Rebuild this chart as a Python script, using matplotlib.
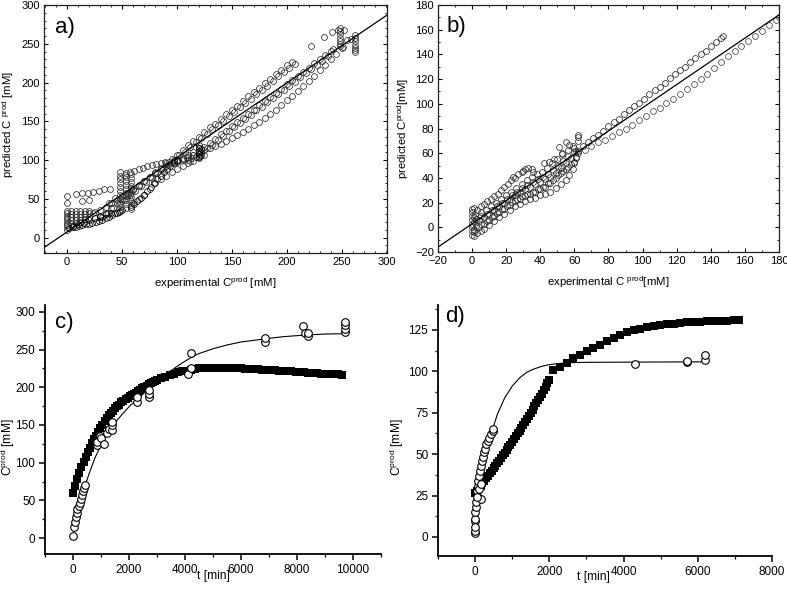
# -*- coding: utf-8 -*-
import matplotlib
matplotlib.use("Agg")
import matplotlib.pyplot as plt
from matplotlib.ticker import MultipleLocator, FixedLocator

plt.rcParams['font.family'] = ['Liberation Sans', 'DejaVu Sans']
plt.rcParams['mathtext.default'] = 'regular'

# ---------------- panel a) predicted vs experimental ----------------
a_line_x = [-21, 291]
a_line_y = [-13, 287]

a_band1_x = [30, 35, 40, 45, 50, 55, 60, 65, 70, 75, 80, 85, 90, 95, 100, 105, 110, 115, 120, 125,
             130, 135, 140, 145, 150, 155, 160, 165, 170, 175, 180, 185, 190, 195, 200, 205]
a_band1_y = [27, 32, 38, 44, 50, 55, 61, 67, 73, 78, 84, 90, 96, 101, 107, 113, 119, 124, 130, 136,
             142, 147, 153, 159, 165, 170, 176, 182, 188, 193, 199, 205, 211, 216, 222, 226]
a_band2_x = [32, 37, 42, 47, 52, 57, 62, 67, 72, 77, 82, 87, 92, 97, 102, 107, 112, 117, 122, 127,
             132, 137, 142, 147, 152, 157, 162, 167, 172, 177, 182, 187, 192, 197, 202, 207]
a_band2_y = [27, 32, 38, 43, 49, 55, 60, 66, 72, 77, 83, 89, 94, 100, 106, 111, 117, 123, 128, 134,
             140, 145, 151, 157, 162, 168, 174, 179, 185, 191, 196, 202, 208, 213, 219, 224]

a_mid_x = [110, 115, 120, 125, 130, 135, 140, 145, 150, 155, 160, 165, 170, 175, 180, 185, 190,
           195, 200, 205, 210, 215, 220, 225, 230, 235, 240, 242]
a_mid_y = [100, 106, 111, 117, 122, 127, 133, 138, 144, 149, 154, 160, 165, 171, 176, 181, 187,
           192, 198, 203, 208, 214, 219, 225, 230, 235, 241, 243]
a_mid2_x = [112, 117, 122, 127, 132, 137, 142, 147, 152, 157, 162, 167, 172, 177, 182, 187, 192,
            197, 202, 207, 212, 217, 222, 227, 232, 237]
a_mid2_y = [99, 104, 110, 115, 120, 126, 131, 137, 142, 148, 153, 158, 164, 169, 175, 180, 185,
            191, 196, 201, 207, 212, 218, 223, 228, 234]

a_low_x = [100, 105, 110, 115, 120, 125, 130, 135, 140, 145, 150, 155, 160, 165, 170, 175, 180,
           185, 190, 195, 200, 205, 210, 215, 220, 225, 230, 235, 240, 245, 250]
a_low_y = [97, 100, 104, 107, 110, 113, 115, 118, 121, 124, 128, 132, 136, 140, 145, 149, 154,
           159, 165, 171, 177, 183, 189, 195, 202, 209, 216, 223, 230, 237, 244]

a_tr_x = [222, 234, 241, 246, 251, 255, 248, 248, 248, 248, 248, 248, 248,
          262, 262, 262, 262, 262, 262, 262, 252, 258]
a_tr_y = [247, 259, 265, 268, 246, 255, 270, 266, 262, 258, 254, 250, 247,
          261, 257, 253, 249, 245, 242, 240, 268, 256]

a_left_x = [0, 0, 0, 0, 0, 0, 0, 0, 0, 0, 0,
            4, 8, 12, 16, 20, 4, 8, 12, 16, 20, 24, 4, 8, 12, 16, 20, 4, 8, 12, 16, 4, 8, 12,
            8, 14, 19, 24, 29, 34, 39, 14, 20, 38, 44]
a_left_y = [10, 13, 16, 19, 22, 25, 28, 31, 34, 45, 53,
            34, 34, 34, 34, 34, 30, 30, 30, 30, 31, 32, 26, 26, 26, 26, 27, 22, 22, 23, 24, 18, 19, 20,
            56, 57, 58, 59, 60, 62, 63, 47, 48, 44, 51]

a_dark_x = [2, 5, 8, 11, 14, 17, 20, 23, 26, 29, 32, 35, 38, 41, 44, 47, 50,
            5, 10, 15, 20, 25, 30, 35, 40, 45, 48,
            58, 61, 64, 67, 70, 73, 76, 79, 82, 85, 88, 91, 94, 97, 100,
            120, 120, 120, 120, 120, 122, 122]
a_dark_y = [12, 13, 14, 15, 16, 17, 18, 19, 20, 21, 23, 25, 27, 29, 31, 33, 36,
            15, 17, 19, 22, 25, 28, 30, 31, 32, 34,
            40, 43, 47, 51, 55, 60, 65, 70, 75, 80, 84, 88, 92, 96, 99,
            104, 108, 112, 116, 120, 106, 114]

a_vert_x = [48, 48, 48, 48, 48, 48, 48, 48, 48, 48,
            54, 54, 54, 54, 54, 54, 54, 54, 54, 54,
            58, 58, 58, 58, 58, 58, 58, 58, 58, 58]
a_vert_y = [40, 45, 50, 55, 60, 65, 70, 75, 80, 85,
            38, 43, 48, 53, 58, 63, 68, 73, 78, 83,
            37, 42, 47, 52, 57, 62, 67, 72, 77, 82]

a_s_x = [53, 57, 61, 65, 69, 73, 77, 81, 85, 89, 93, 97, 101, 105, 109, 113, 117, 121,
         25, 30, 35, 40, 45, 50, 55, 60, 65, 70, 75, 80, 85, 90, 95, 100, 105, 110, 115, 120,
         60, 65, 70, 75, 80, 85, 90, 95, 100, 105, 110, 115, 120, 125]
a_s_y = [81, 84, 86, 88, 90, 92, 94, 95, 96, 97, 98, 99, 100, 101, 102, 103, 104, 105,
         33, 36, 40, 44, 48, 53, 58, 63, 68, 73, 78, 83, 88, 92, 96, 100, 103, 107, 111, 115,
         45, 50, 55, 62, 70, 76, 80, 84, 88, 92, 96, 99, 103, 107]

# ---------------- panel b) predicted vs experimental ----------------
b_line_x = [-20, 180]
b_line_y = [-16, 172]

b_up_x = [62, 65, 68, 71, 74, 77, 80, 83, 86, 89, 92, 95, 98, 101, 104, 107, 110, 113, 116, 119,
          122, 125, 128, 131, 134, 137, 140, 143, 146, 147]
b_up_y = [62, 66, 69, 72, 75, 78, 82, 85, 88, 92, 95, 98, 101, 104, 108, 111, 114, 117, 121, 124,
          127, 130, 134, 137, 140, 143, 147, 150, 153, 155]

b_low_x = [66, 70, 74, 78, 82, 86, 90, 94, 98, 102, 106, 110, 114, 118, 122, 126, 130, 134, 138,
           142, 146, 150, 154, 158, 162, 166, 170, 174, 178, 180]
b_low_y = [63, 66, 69, 71, 74, 77, 80, 83, 87, 90, 94, 97, 101, 104, 108, 112, 116, 120, 124,
           129, 134, 139, 143, 147, 151, 155, 159, 164, 168, 170]

b_c1_x = [1, 3, 5, 7, 9, 11, 13, 15, 17, 19, 21, 23, 25, 27, 29, 31, 33, 35]
b_c1_y = [16, 14, 17, 19, 21, 23, 25, 27, 30, 33, 35, 38, 40, 43, 45, 47, 48, 47]
b_c2_x = [2, 5, 8, 11, 14, 17, 20, 23, 26, 29, 32, 35, 38, 41, 44, 47, 50, 53, 56, 59, 62]
b_c2_y = [10, 12, 14, 17, 20, 23, 26, 29, 32, 35, 38, 41, 43, 45, 48, 52, 55, 59, 63, 66, 70]
b_c3_x = [1, 4, 7, 10, 13, 16, 19, 22, 25, 28, 31, 34, 37, 40, 43, 46, 49, 52, 55, 58, 61]
b_c3_y = [4, 6, 8, 11, 14, 17, 20, 23, 26, 29, 31, 33, 35, 37, 39, 41, 44, 48, 52, 56, 62]
b_c4_x = [1, 4, 7, 10, 13, 16, 19, 22, 25, 28, 31, 34, 37, 40, 43, 46, 49, 52, 55, 58, 61]
b_c4_y = [-2, 0, 3, 6, 9, 12, 15, 18, 21, 23, 25, 27, 29, 31, 33, 36, 40, 44, 47, 51, 57]
b_c5_x = [1, 3, 5, 7, 10, 13, 16, 19, 22, 25, 28, 31, 34, 37, 40, 43, 46, 49, 52, 55, 57, 59,
          60, 61, 62]
b_c5_y = [-7, -5, -3, -1, 2, 5, 8, 11, 14, 17, 19, 21, 23, 24, 26, 27, 29, 32, 35, 38, 42, 47,
          52, 56, 60]
b_c6_x = [0, 0, 0, 0, 0, 0, 0, 0, 1, 1, 51, 55, 57, 62, 62, 60, 45, 42, 48, 53, 36, 30, 24]
b_c6_y = [-6, -3, 0, 3, 6, 9, 12, 15, -4, 8, 65, 69, 67, 75, 73, 64, 53, 52, 55, 60, 45, 46, 41]
b_c7_x = [2.5, 5.5, 8.5, 11.5, 14.5, 17.5, 20.5, 23.5, 26.5, 29.5, 32.5, 35.5, 38.5, 41.5, 44.5,
          47.5, 50.5, 53.5, 56.5, 59.5]
b_c7_y = [7, 9, 11, 14, 17, 20, 23, 26, 29, 32, 34.5, 37, 39, 41, 43.5, 46.5, 49.5, 53.5, 57.5, 61]
b_c8_x = [2.5, 5.5, 8.5, 11.5, 14.5, 17.5, 20.5, 23.5, 26.5, 29.5, 32.5, 35.5, 38.5, 41.5, 44.5,
          47.5, 50.5, 53.5, 56.5, 59.5]
b_c8_y = [1, 3, 5.5, 8.5, 11.5, 14.5, 17.5, 20.5, 23, 25, 27, 29, 31, 33, 35.5, 38.5, 42, 45.5,
          49, 53]

# ---------------- panel c) time course ----------------
c_sq_x = [0, 75, 150, 225, 300, 375, 450, 525, 600, 675, 750, 825, 900, 975, 1050, 1125,
          1200, 1275, 1350, 1425, 1500, 1575, 1650, 1725, 1800, 1875, 1950, 2025, 2100,
          2175, 2250, 2325, 2400, 2475, 2550, 2625, 2700, 2775, 2850, 2925, 3000,
          3150, 3300, 3450, 3600, 3750, 3900, 4050, 4200,
          4350, 4500, 4650, 4800, 4950, 5100, 5250, 5400, 5550, 5700, 5850, 6000, 6150, 6300,
          6450, 6600, 6750, 6900, 7050, 7200, 7350, 7500, 7650, 7800, 7950, 8100, 8250, 8400,
          8550, 8700, 8850, 9000, 9150, 9300, 9450, 9600]
c_sq_y = [60, 69, 78, 86, 94, 101, 108, 114, 120, 126, 131, 136, 141, 146, 150, 155,
          159, 163, 166, 169, 172, 175, 177, 180, 182, 184, 186, 188, 190,
          191.5, 193, 195, 197, 198.5, 200, 202, 204, 205.5, 207, 208, 209,
          212, 214, 216, 218, 220, 221, 222, 223,
          224, 225, 225.5, 226, 226, 226, 226, 226, 226, 225.5, 225, 225, 224.5, 224.5,
          224, 224, 223.5, 223, 223, 222.5, 222, 222, 221.5, 221, 220.5, 220, 220, 219.5,
          219, 218.5, 218, 218, 217.5, 217, 217, 216.5]

c_exp_x = [0, 20, 60, 100, 130, 160, 200, 240, 280, 320, 360, 400, 430,
           850, 860, 980, 1000, 1100, 1200, 1300, 1380, 1390, 1390,
           2290, 2290, 2730, 2730, 2730, 4090, 4230, 4230,
           6846, 6846, 8226, 8300, 8390, 8390, 9720, 9720, 9720, 9720]
c_exp_y = [3, 15, 22, 28, 33, 38, 42, 47, 52, 57, 62, 67, 70,
           124, 128, 136, 133, 125, 140, 145, 143, 150, 154,
           181, 187, 187, 191, 197, 218, 225, 246,
           260, 265, 281, 272, 268, 272, 273, 277, 282, 287]

c_fit_x = [0, 100, 200, 300, 432, 600, 791, 1000, 1151, 1400, 1571, 1800, 2050, 2350, 2650,
           3000, 3250, 3500, 3849, 4200, 4449, 5000, 5500, 6000, 6846, 7500, 8226, 9000, 9700]
c_fit_y = [14, 28, 41, 53, 70, 88, 107, 123, 134, 148, 156, 166, 176, 186, 196,
           207, 215, 222, 231, 239, 244, 251, 256, 260, 264, 267, 269, 270.5, 271]

# ---------------- panel d) time course ----------------
d_sq_x = [0, 50, 100, 150, 200, 250, 300, 350, 400, 450, 500, 550, 600, 650, 700, 750, 800,
          850, 900, 950, 1000, 1050, 1100, 1150, 1200, 1250, 1300, 1350, 1400, 1450, 1500,
          1550, 1600, 1650, 1700, 1750, 1800, 1850, 1900, 1950, 2000,
          2110, 2290, 2470, 2650, 2830, 3010, 3190, 3370, 3550, 3730, 3910, 4090, 4270, 4450,
          4630, 4810, 4990, 5170, 5350, 5530, 5710, 5890, 6070, 6250, 6430, 6610, 6790, 6970,
          7100]
d_sq_y = [26.5, 27.9, 29.4, 30.9, 32.4, 33.9, 35.4, 36.9, 38.4, 39.9, 41.4, 42.9, 44.4, 46, 47.6,
          49.2, 50.8, 52.4, 54, 55.7, 57.4, 59.1, 60.8, 62.5, 64.2, 66, 67.8, 69.6, 71.4, 73.2,
          75, 76.9, 78.8, 80.7, 82.6, 84.5, 86.5, 88.5, 90.5, 92.7, 95,
          100.8, 102.5, 105, 107.8, 110, 112, 114, 116, 118, 120, 122, 123.5, 124.8, 125.8,
          126.6, 127.3, 127.9, 128.4, 128.8, 129.2, 129.5, 129.8, 130, 130.2, 130.4, 130.5,
          130.6, 130.7, 130.8]

d_exp_x = [0, 0, 0, 0, 5, 10, 15, 25, 40, 55, 70, 90, 110, 130, 155, 180, 205, 235, 265, 300,
           340, 380, 420, 470, 480, 170, 60, 100, 150,
           4300, 5720, 5720, 6200, 6200]
d_exp_y = [2.5, 3.5, 9.5, 11, 6, 15, 18, 21, 25, 28, 31, 34, 37, 40, 43, 46, 48, 51, 53, 56,
           58, 60, 62, 64, 65, 23, 24, 29, 32,
           104.5, 105.5, 106, 107, 110]

d_fit_x = [0, 100, 200, 300, 400, 500, 600, 700, 800, 1000, 1200, 1400, 1600, 1800, 2000,
           2300, 2600, 3000, 4000, 5000, 6200]
d_fit_y = [26, 35, 44, 52, 60, 67, 74, 79, 84, 91, 96, 99.5, 101.5, 103, 104,
           104.8, 105.2, 105.4, 105.5, 105.6, 105.7]


def circles(ax, xs, ys, color='#2a2a2a', ms=4.2):
    ax.plot(xs, ys, 'o', ms=ms, mfc='none', mec=color, mew=0.55)


def style_box(ax, fs=8):
    for sp in ax.spines.values():
        sp.set_linewidth(0.9)
        sp.set_color('#222222')
    ax.tick_params(which='both', direction='in', top=True, right=True, labelsize=fs, pad=3)
    ax.tick_params(which='major', length=3, width=0.8)
    ax.tick_params(which='minor', length=1.5, width=0.6)


def style_open(ax, fs=8.5):
    ax.spines['top'].set_visible(False)
    ax.spines['right'].set_visible(False)
    ax.spines['left'].set_linewidth(1.3)
    ax.spines['bottom'].set_linewidth(1.3)
    ax.tick_params(which='both', direction='out', labelsize=fs)
    ax.tick_params(which='major', length=4, width=1.1, pad=3)
    ax.tick_params(which='minor', length=2.5, width=0.9)


def main():
    fig = plt.figure(figsize=(7.87, 5.92), dpi=100)

    # a)
    ax = fig.add_axes([0.0559, 0.5726, 0.4358, 0.4189])
    circles(ax, a_band1_x, a_band1_y)
    circles(ax, a_band2_x, a_band2_y)
    circles(ax, a_mid_x, a_mid_y)
    circles(ax, a_mid2_x, a_mid2_y)
    circles(ax, a_low_x, a_low_y)
    circles(ax, a_tr_x, a_tr_y)
    circles(ax, a_left_x, a_left_y)
    circles(ax, a_vert_x, a_vert_y)
    circles(ax, a_s_x, a_s_y)
    circles(ax, a_dark_x, a_dark_y, color='black')
    ax.plot(a_line_x, a_line_y, '-', color='black', lw=0.9)
    ax.set_xlim(-21, 291)
    ax.set_ylim(-20, 300)
    ax.xaxis.set_major_locator(FixedLocator([0, 50, 100, 150, 200, 250, 291]))
    ax.set_xticklabels(['0', '50', '100', '150', '200', '250', '300'])
    ax.yaxis.set_major_locator(MultipleLocator(50))
    ax.xaxis.set_minor_locator(MultipleLocator(10))
    ax.yaxis.set_minor_locator(MultipleLocator(10))
    style_box(ax)
    ax.set_xlabel('experimental C$^{prod}$ [mM]', fontsize=8.2)
    ax.set_ylabel('predicted C $^{prod}$ [mM]', fontsize=8.2)
    ax.xaxis.set_label_coords(0.5, -0.089)
    ax.yaxis.set_label_coords(-0.081, 0.52)
    ax.text(0.032, 0.909, 'a)', transform=ax.transAxes, fontsize=16, va='center', ha='left')

    # b)
    ax = fig.add_axes([0.5565, 0.5743, 0.4333, 0.4172])
    circles(ax, b_up_x, b_up_y)
    circles(ax, b_low_x, b_low_y, color='#444444')
    circles(ax, b_c1_x, b_c1_y)
    circles(ax, b_c2_x, b_c2_y)
    circles(ax, b_c3_x, b_c3_y)
    circles(ax, b_c4_x, b_c4_y)
    circles(ax, b_c5_x, b_c5_y)
    circles(ax, b_c6_x, b_c6_y)
    circles(ax, b_c7_x, b_c7_y)
    circles(ax, b_c8_x, b_c8_y)
    ax.plot(b_line_x, b_line_y, '-', color='black', lw=0.9)
    ax.set_xlim(-20, 180)
    ax.set_ylim(-20, 180)
    ax.xaxis.set_major_locator(MultipleLocator(20))
    ax.yaxis.set_major_locator(MultipleLocator(20))
    ax.xaxis.set_minor_locator(MultipleLocator(10))
    ax.yaxis.set_minor_locator(MultipleLocator(10))
    style_box(ax)
    ax.set_xlabel('experimental C $^{prod}$[mM]', fontsize=8.2)
    ax.set_ylabel('predicted C$^{prod}$[mM]', fontsize=8.2)
    ax.xaxis.set_label_coords(0.5, -0.089)
    ax.yaxis.set_label_coords(-0.079, 0.5)
    ax.text(0.025, 0.915, 'b)', transform=ax.transAxes, fontsize=16, va='center', ha='left')

    # c)
    ax = fig.add_axes([0.0572, 0.0642, 0.4269, 0.4206])
    ax.plot(c_sq_x, c_sq_y, 's', ms=5.5, color='black', mew=0)
    ax.plot(c_fit_x, c_fit_y, '-', color='black', lw=0.8)
    ax.plot(c_exp_x, c_exp_y, 'o', ms=5.5, mfc='white', mec='black', mew=0.8)
    ax.set_xlim(-1000, 11000)
    ax.set_ylim(-21, 309)
    ax.xaxis.set_major_locator(MultipleLocator(2000))
    ax.xaxis.set_minor_locator(MultipleLocator(1000))
    ax.yaxis.set_major_locator(MultipleLocator(50))
    ax.yaxis.set_minor_locator(MultipleLocator(25))
    style_open(ax)
    ax.set_xlabel('t [min]', fontsize=8.7)
    ax.set_ylabel('C$^{prod}$ [mM]', fontsize=8.7)
    ax.xaxis.set_label_coords(0.5, -0.066)
    ax.yaxis.set_label_coords(-0.084, 0.43)
    ax.text(0.03, 0.93, 'c)', transform=ax.transAxes, fontsize=16, va='center', ha='left')

    # d)
    ax = fig.add_axes([0.5565, 0.0608, 0.4244, 0.424])
    ax.plot(d_sq_x, d_sq_y, 's', ms=5.5, color='black', mew=0)
    ax.plot(d_fit_x, d_fit_y, '-', color='black', lw=0.8)
    ax.plot(d_exp_x, d_exp_y, 'o', ms=5.5, mfc='white', mec='black', mew=0.8)
    ax.set_xlim(-1000, 8000)
    ax.set_ylim(-11.5, 140)
    ax.xaxis.set_major_locator(MultipleLocator(2000))
    ax.xaxis.set_minor_locator(MultipleLocator(1000))
    ax.yaxis.set_major_locator(MultipleLocator(25))
    ax.yaxis.set_minor_locator(MultipleLocator(12.5))
    style_open(ax)
    ax.set_xlabel('t [min]', fontsize=8.7)
    ax.set_ylabel('C$^{prod}$ [mM]', fontsize=8.7)
    ax.xaxis.set_label_coords(0.464, -0.058)
    ax.yaxis.set_label_coords(-0.096, 0.435)
    ax.text(0.021, 0.953, 'd)', transform=ax.transAxes, fontsize=16, va='center', ha='left')

    fig.savefig('out.png', dpi=100)


if __name__ == "__main__":
    main()
